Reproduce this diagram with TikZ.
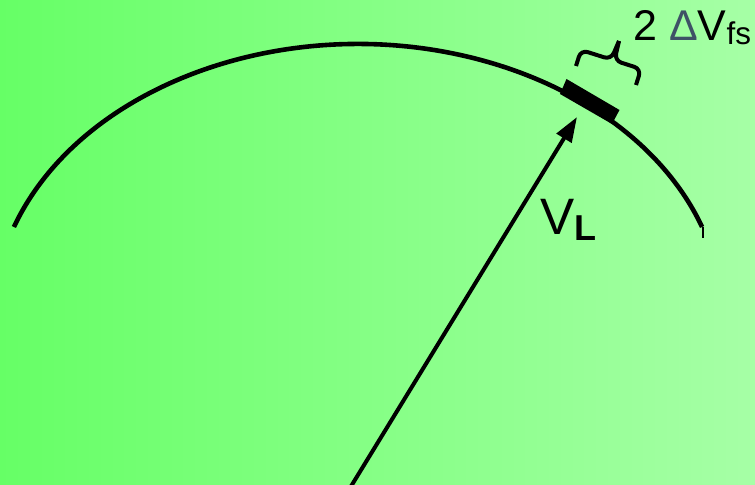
\documentclass[tikz,border=0pt]{standalone}
\usepackage{fontspec}
\setmainfont{Liberation Sans}
\usepackage{tikz}
\usetikzlibrary{arrows.meta,positioning,calc}
\definecolor{bgLeft}{RGB}{102,255,102}
\definecolor{bgRight}{RGB}{166,255,166}
\definecolor{deltaSlate}{RGB}{62,82,102}

\begin{document}
\begin{tikzpicture}[x=0.5pt,y=-0.5pt,
    arcline/.style={line width=2.3pt},
    vecline/.style={line width=2pt,-{Triangle[length=12.5pt,width=8.5pt]}},
    bracemark/.style={line width=2pt,rounded corners=3.5pt}]
  % background
  \useasboundingbox (0,0) rectangle (755,485);
  \clip (0,0) rectangle (755,485);
  \shade[left color=bgLeft,right color=bgRight] (0,0) rectangle (755,485);
  % load line
  \coordinate (ctr) at (358,318);
  \draw[arcline] (ctr) ++(199.4:364.8 and 274)
    arc[start angle=199.4,end angle=340.6,x radius=364.8,y radius=274] coordinate (arcend);
  \draw[line width=1pt] (arcend) ++(1,0) -- ++(0,11);
  % band on the arc
  \fill (560,94) -- (566.5,79) -- (619.5,110) -- (612,124) -- cycle;
  % vector
  \coordinate (tail) at (350,488);
  \coordinate (tip) at (577,117);
  \draw[vecline] (tail) -- (tip);
  \node[anchor=base west,inner sep=0,font=\fontsize{25.6}{28}\selectfont] (vl) at (540,235)
    {V\raisebox{-3pt}{\fontsize{18}{20}\selectfont\bfseries L}};
  % brace
  \coordinate (bl) at (576,66);
  \coordinate (btip) at (619,41);
  \coordinate (br) at (636,85);
  \draw[bracemark] (bl) -- (581,50) -- (611,59.5) -- (btip);
  \draw[bracemark] (btip) -- (614.5,60.5) -- (641,69) -- (br);
  \node[anchor=base west,inner sep=0,font=\fontsize{21.5}{24}\selectfont] (dv) at (633,41)
    {2 \textcolor{deltaSlate}{Δ}V\raisebox{-2pt}{\fontsize{15.7}{17}\selectfont fs}};
\end{tikzpicture}
\end{document}
